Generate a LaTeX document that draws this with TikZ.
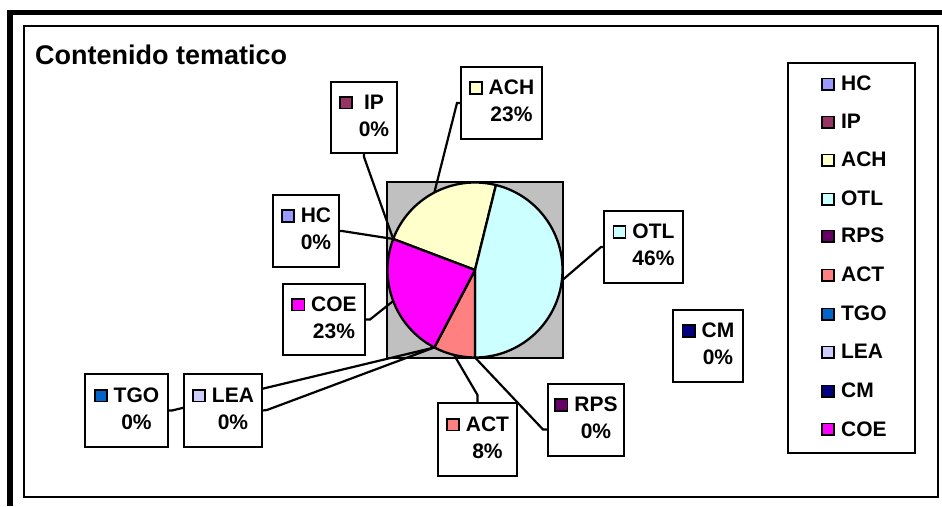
\documentclass[tikz,border=0pt]{standalone}
\usepackage{fontspec}
\setmainfont{Liberation Sans}
\definecolor{hcc}{HTML}{9999FF}
\definecolor{ipc}{HTML}{993366}
\definecolor{achc}{HTML}{FFFFCC}
\definecolor{otlc}{HTML}{CCFFFF}
\definecolor{rpsc}{HTML}{660066}
\definecolor{actc}{HTML}{FF8080}
\definecolor{tgoc}{HTML}{0066CC}
\definecolor{leac}{HTML}{CCCCFF}
\definecolor{cmc}{HTML}{000080}
\definecolor{coec}{HTML}{FF00FF}
\definecolor{plotgray}{HTML}{C0C0C0}
\newcommand{\lfont}{\fontsize{21}{27}\selectfont\bfseries}
\newcommand{\keysq}[1]{{\setlength{\fboxsep}{0pt}\setlength{\fboxrule}{1.7pt}\raisebox{1.7pt}{\fcolorbox{black}{#1}{\rule{0pt}{10pt}\rule{10.5pt}{0pt}}}}}
\newcommand{\lblx}[3]{\keysq{#1}\hspace{6pt}\begin{tabular}[t]{@{}c@{}}#2\\#3\end{tabular}}
\pgfdeclarelayer{pie}
\pgfdeclarelayer{lead}
\pgfsetlayers{pie,lead,main}
\begin{document}
\begin{tikzpicture}[x=1pt,y=1pt,
  lbox/.style={draw, fill=white, line width=2.3pt, inner sep=0pt, font=\lfont},
  lent/.style={anchor=base west, inner sep=0pt, font=\lfont},
  lead/.style={line width=2.2pt, line join=miter},
  slice/.style={draw, line width=2.3pt, line join=round}]
\useasboundingbox (0,0) rectangle (942,506);
% chart frame
\draw[line width=5.5pt] (10,0) -- (10,493.5) -- (942,493.5);
\draw[line width=2.3pt] (24,8.7) rectangle (938,480);
% title
\node[anchor=base west, inner sep=0pt, font=\fontsize{27}{30}\selectfont\bfseries] (title) at (35,441) {Contenido tematico};
% pie
\coordinate (c) at (475,236);
\begin{pgfonlayer}{pie}
\draw[line width=2.3pt, fill=plotgray] (387,148) rectangle (563,324);
\path[slice, fill=achc] (c) -- +(159.231:87.5) arc[start angle=159.231, end angle=76.154, radius=87.5] -- cycle;
\path[slice, fill=otlc] (c) -- +(76.154:87.5) arc[start angle=76.154, end angle=-90, radius=87.5] -- cycle;
\path[slice, fill=actc] (c) -- +(-90:87.5) arc[start angle=-90, end angle=-117.692, radius=87.5] -- cycle;
\path[slice, fill=coec] (c) -- +(-117.692:87.5) arc[start angle=-117.692, end angle=-200.769, radius=87.5] -- cycle;
\end{pgfonlayer}
\path (c) ++(117.69:87.5) coordinate (pACH);
\path (c) ++(-6.92:87.5) coordinate (pOTL);
\path (c) ++(-103.85:87.5) coordinate (pACT);
\path (c) ++(-159.23:87.5) coordinate (pCOE);
\path (c) ++(159.231:87.5) coordinate (pHC);
\path (c) ++(-90:87.5) coordinate (pRPS);
\path (c) ++(-117.692:87.5) coordinate (pTGO);
% data labels
\node[lbox, minimum width=66pt, minimum height=71pt] (IP) at (364,388.5) {\lblx{ipc}{IP}{0\%}};
\node[lbox, minimum width=81pt, minimum height=72pt] (ACH) at (501.5,403) {\lblx{achc}{ACH}{23\%}};
\node[lbox, minimum width=66pt, minimum height=72pt] (HC) at (306,275) {\lblx{hcc}{HC}{0\%}};
\node[lbox, minimum width=82pt, minimum height=71pt] (COE) at (324,186.5) {\lblx{coec}{COE}{23\%}};
\node[lbox, minimum width=79pt, minimum height=72pt] (OTL) at (643.5,259) {\lblx{otlc}{OTL}{46\%}};
\node[lbox, minimum width=70pt, minimum height=72pt] (CM) at (708,160) {\lblx{cmc}{CM}{0\%}};
\node[lbox, minimum width=83pt, minimum height=73pt] (TGO) at (126.5,95.5) {\lblx{tgoc}{TGO}{0\%}};
\node[lbox, minimum width=78pt, minimum height=73pt] (LEA) at (223,95.5) {\lblx{leac}{LEA}{0\%}};
\node[lbox, minimum width=79pt, minimum height=73pt] (ACT) at (477.5,66.5) {\lblx{actc}{ACT}{8\%}};
\node[lbox, minimum width=76pt, minimum height=72pt] (RPS) at (586,86) {\lblx{rpsc}{RPS}{0\%}};
% leader lines
\coordinate (bACH) at (457,403);
\coordinate (bIP) at (364,349);
\coordinate (bHC) at (342,275);
\coordinate (bCOE) at (370,186.5);
\coordinate (bOTL) at (601,259);
\coordinate (bTGO) at (172,95.5);
\coordinate (bLEA) at (267,96);
\coordinate (bACT) at (477.5,111);
\coordinate (bRPS) at (543,76.5);
\begin{pgfonlayer}{lead}
\draw[lead] (pACH) -- (bACH) -- (ACH.west);
\draw[lead] (pHC) -- (bIP) -- (IP.south);
\draw[lead] (pHC) -- (bHC) -- (HC.east);
\draw[lead] (pCOE) -- (bCOE) -- (COE.east);
\draw[lead] (pOTL) -- (bOTL) -- (OTL.west);
\draw[lead] (pTGO) -- (bTGO) -- (TGO.east);
\draw[lead] (pTGO) -- (bLEA) -- (LEA.east);
\draw[lead] (pACT) -- (bACT) -- (ACT.north);
\draw[lead] (pRPS) -- (bRPS) -- (RPS.west |- bRPS);
\end{pgfonlayer}
% legend
\node[draw, line width=2.3pt, minimum width=127pt, minimum height=390pt, inner sep=0pt] (legend) at (851.5,248) {};
\node[lent] (lHC)  at (821,415) {\keysq{hcc}\hspace{6pt}HC};
\node[lent] (lIP)  at (821,377) {\keysq{ipc}\hspace{6pt}IP};
\node[lent] (lACH) at (821,339) {\keysq{achc}\hspace{6pt}ACH};
\node[lent] (lOTL) at (821,300) {\keysq{otlc}\hspace{6pt}OTL};
\node[lent] (lRPS) at (821,263) {\keysq{rpsc}\hspace{6pt}RPS};
\node[lent] (lACT) at (821,224) {\keysq{actc}\hspace{6pt}ACT};
\node[lent] (lTGO) at (821,185) {\keysq{tgoc}\hspace{6pt}TGO};
\node[lent] (lLEA) at (821,147) {\keysq{leac}\hspace{6pt}LEA};
\node[lent] (lCM)  at (821,108) {\keysq{cmc}\hspace{6pt}CM};
\node[lent] (lCOE) at (821,70)  {\keysq{coec}\hspace{6pt}COE};
\end{tikzpicture}
\end{document}
